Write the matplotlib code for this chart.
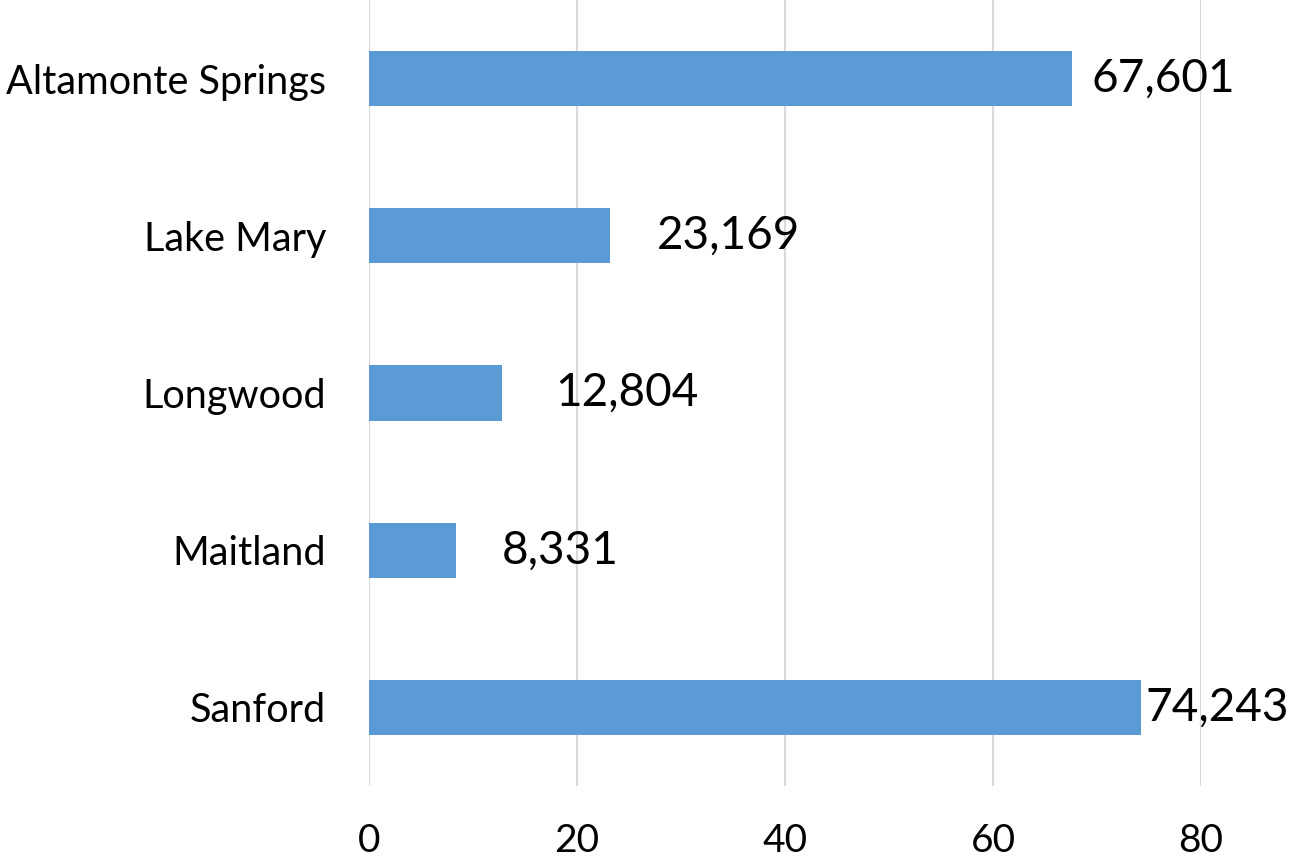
import matplotlib
matplotlib.use("Agg")
import matplotlib.pyplot as plt

categories = ["Altamonte Springs", "Lake Mary", "Longwood", "Maitland", "Sanford"]
values = [67.601, 23.169, 12.804, 8.331, 74.243]
value_labels = ["67,601", "23,169", "12,804", "8,331", "74,243"]
x_ticks = [0, 20, 40, 60, 80]

# label offsets (points) from bar end, as placed in the original
label_offsets = [14, 34, 38, 33, 3]

plt.rcParams['font.family'] = ['Lato', 'DejaVu Sans']

fig = plt.figure(figsize=(12.99, 8.65), dpi=100)
ax = fig.add_axes([369/1299, (865-786)/865, (1201-369)/1299, 786/865])

ypos = list(range(len(categories)))
ax.barh(ypos, values, height=0.35, color="#5B9BD5", zorder=2)
ax.set_ylim(len(categories)-0.5, -0.5)
ax.set_xlim(0, 80)
ax.set_xticks(x_ticks)
ax.set_xticklabels([str(t) for t in x_ticks], fontsize=28)
ax.set_yticks(ypos)
ax.set_yticklabels(categories, fontsize=28.5)
ax.tick_params(axis='both', length=0)
ax.tick_params(axis='x', pad=27)
ax.tick_params(axis='y', pad=31)
ax.xaxis.grid(True, color="#D9D9D9", linewidth=1.5, zorder=0)
for s in ax.spines.values():
    s.set_visible(False)
ax.axvline(0, color="#D9D9D9", linewidth=1.5, zorder=1)

for y, v, lab, off in zip(ypos, values, value_labels, label_offsets):
    ax.annotate(lab, (v, y), xytext=(off, 0), textcoords="offset points",
                ha="left", va="center", fontsize=33, clip_on=False)

fig.savefig("out.png", dpi=100)
